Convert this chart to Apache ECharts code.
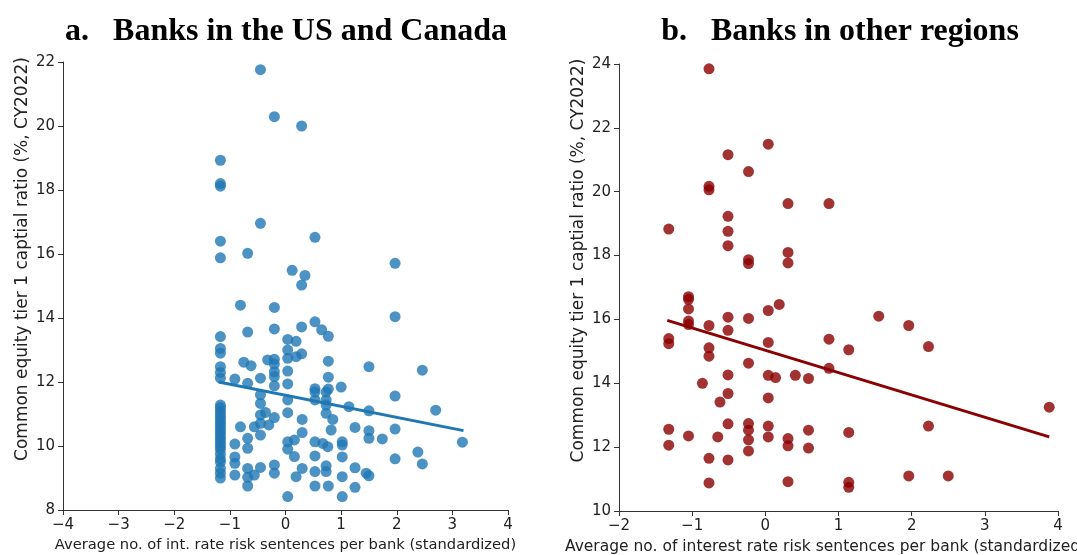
<!DOCTYPE html>
<html>
<head>
<meta charset="utf-8">
<script src="https://cdn.jsdelivr.net/npm/echarts@6/dist/echarts.min.js"></script>
<style>
  html, body { margin: 0; padding: 0; background: #fff; }
  #main { width: 1077px; height: 555px; }
</style>
</head>
<body>
<div id="main"></div>
<script>
// 数据：近似值
var titles = ['a.   Banks in the US and Canada', 'b.   Banks in other regions'];
var yName = 'Common equity tier 1 captial ratio (%, CY2022)';
var xNameLeft = 'Average no. of int. rate risk sentences per bank (standardized)';
var xNameRight = 'Average no. of interest rate risk sentences per bank (standardized)';

var usPoints = [
  [-0.45,21.76],[-0.2,20.29],[0.29,20.0],[-1.17,18.93],[-1.17,18.2],[-1.17,18.12],[-0.45,16.96],
  [-1.17,16.4],[0.53,16.52],[-0.68,16.02],[-1.17,15.88],[0.12,15.49],[0.35,15.33],[0.29,15.03],
  [-0.81,14.4],[-0.2,14.33],[-1.17,13.42],[-0.68,13.56],[-0.2,13.66],[0.29,13.72],[0.53,13.88],
  [0.65,13.63],[0.77,13.43],[0.04,13.33],[0.19,13.27],[-1.17,13.05],[-1.17,12.9],[0.04,13.0],
  [0.04,12.74],[0.19,12.79],[0.29,12.88],[-0.32,12.69],[-0.2,12.71],[-0.2,12.56],[-0.75,12.62],
  [-0.62,12.51],[0.77,12.65],[-1.17,12.48],[-1.17,12.3],[-1.17,12.12],[-0.91,12.09],[-0.68,11.96],
  [-0.45,12.12],[-0.2,12.32],[-0.2,12.17],[0.04,12.34],[0.04,11.94],[-0.2,11.88],[0.77,12.15],
  [0.53,11.79],[0.77,11.78],[1.0,11.84],
  [-1.17,11.28],[-1.17,11.2],[-1.17,11.1],[-1.17,11.0],[-1.17,10.9],[-1.17,10.8],[-1.17,10.7],
  [-1.17,10.6],[-1.17,10.5],[-1.17,10.4],[-1.17,10.3],[-1.17,10.2],[-1.17,10.1],[-1.17,10.0],
  [-1.17,9.9],[-1.17,9.75],[-1.17,9.6],[-1.17,9.5],[-1.17,9.3],[-1.17,9.15],[-1.17,9.0],
  [-0.81,10.6],[-0.91,10.06],[-0.91,9.66],[-0.91,9.46],[-0.91,9.09],[-0.68,10.24],[-0.68,9.93],
  [-0.68,9.3],[-0.68,9.02],[-0.68,8.75],[-0.56,10.6],[-0.56,9.09],[-0.45,11.6],[-0.45,11.33],
  [-0.45,10.97],[-0.36,11.05],[-0.45,10.71],[-0.45,10.34],[-0.3,10.66],[-0.2,10.89],[-0.45,9.33],
  [-0.2,9.41],[-0.2,9.15],[0.04,11.44],[0.04,11.04],[0.04,10.13],[0.16,10.19],[0.04,9.9],
  [0.16,9.67],[0.3,10.42],[0.3,10.83],[0.3,9.3],[0.19,9.04],[0.04,8.42],[0.53,11.69],[0.53,11.44],
  [0.73,11.69],[0.73,11.44],[0.73,11.28],[0.73,11.02],[0.85,10.83],[0.82,10.5],[0.53,10.13],
  [0.67,10.08],[0.76,9.98],[0.53,9.69],[0.73,9.38],[0.53,9.2],[0.73,9.2],[0.53,8.75],[0.77,8.75],
  [1.97,15.71],[1.97,14.04],[1.5,12.48],[2.46,12.37],[1.97,11.56],[1.14,11.23],[1.5,11.1],
  [2.7,11.12],[1.25,10.58],[1.5,10.48],[1.5,10.24],[1.74,10.22],[1.97,10.53],[3.18,10.12],
  [1.02,10.13],[1.02,10.03],[1.02,9.66],[2.38,9.81],[1.97,9.6],[2.46,9.44],[1.25,9.32],
  [1.45,9.15],[1.5,9.07],[1.02,9.04],[1.25,8.71],[1.02,8.42]
];
var usTrend = [[-1.2, 12.0], [3.2, 10.48]];

var otherPoints = [
  [-0.77,23.85],[0.04,21.49],[-0.51,21.16],[-0.23,20.63],[-0.77,20.17],[-0.77,20.06],[0.31,19.63],
  [0.87,19.63],[-0.51,19.23],[-1.32,18.83],[-0.51,18.76],[-0.51,18.31],[-0.23,17.87],[-0.23,17.75],
  [0.31,18.1],[0.31,17.77],[-1.05,16.71],[-1.05,16.63],[-1.05,16.33],[-1.05,15.95],[-1.05,15.84],
  [-0.77,15.81],[-0.51,16.07],[-0.51,15.66],[-0.23,16.03],[0.04,16.28],[0.19,16.47],[-1.32,15.4],
  [-1.32,15.24],[-0.77,15.11],[-0.77,14.85],[0.04,15.28],[0.87,15.38],[1.14,15.05],[0.87,14.47],
  [-0.23,14.63],[-0.51,14.26],[0.04,14.25],[0.14,14.18],[0.41,14.25],[0.59,14.15],[-0.86,14.0],
  [-0.51,13.68],[-0.62,13.41],[0.04,13.54],[-1.32,12.56],[-1.32,12.06],[-1.05,12.35],[-0.65,12.32],
  [-0.51,12.73],[-0.23,12.74],[-0.23,12.53],[-0.23,12.23],[-0.23,11.88],[0.04,12.66],[0.04,12.32],
  [0.31,12.27],[0.31,12.04],[0.59,12.53],[0.59,11.97],[1.14,12.46],[-0.77,11.65],[-0.51,11.6],
  [-0.77,10.88],[0.31,10.92],[1.14,10.9],[1.14,10.74],[1.55,16.1],[1.96,15.81],[2.23,15.15],
  [3.88,13.25],[2.23,12.66],[1.96,11.1],[2.5,11.1]
];
var otherTrend = [[-1.34, 15.97], [3.88, 12.32]];

var myChart = echarts.init(document.getElementById('main'));

function minus(v) { return String(v).replace('-', '\u2212'); }

var labelStyle = { color: '#222', fontSize: 15, fontFamily: 'DejaVu Sans', formatter: minus };
var tickStyle = { show: true, inside: false, length: 5, lineStyle: { color: '#333' } };

function xAxis(idx, min, max, name, size, pad) {
    return {
        type: 'value', gridIndex: idx, min: min, max: max, interval: 1,
        name: name, nameLocation: 'middle', nameGap: 28,
        nameTextStyle: { color: '#222', fontSize: size, fontFamily: 'DejaVu Sans', padding: pad },
        axisLine: { onZero: false, lineStyle: { color: '#333', width: 1 } },
        axisTick: tickStyle, axisLabel: labelStyle,
        splitLine: { show: false }
    };
}
function yAxis(idx, min, max) {
    return {
        type: 'value', gridIndex: idx, min: min, max: max, interval: 2,
        name: yName, nameLocation: 'middle', nameGap: 32,
        nameTextStyle: { color: '#222', fontSize: 17, fontFamily: 'DejaVu Sans', padding: [0, 0, 0, 54] },
        axisLine: { show: true, onZero: false, lineStyle: { color: '#333', width: 1 } },
        axisTick: tickStyle, axisLabel: labelStyle,
        splitLine: { show: false }
    };
}

var titleStyle = { fontFamily: 'Liberation Serif', fontWeight: 'bold', fontSize: 32, color: '#000' };

var option = {
    animation: false,
    title: [
        { text: titles[0], left: 281, top: 11, textAlign: 'center', textStyle: titleStyle },
        { text: titles[1], left: 835, top: 11, textAlign: 'center', textStyle: titleStyle }
    ],
    grid: [
        { left: 63, right: 569, top: 62, bottom: 45, outerBoundsMode: 'none' },
        { left: 619, right: 19, top: 64, bottom: 44, outerBoundsMode: 'none' }
    ],
    xAxis: [
        xAxis(0, -4, 4, xNameLeft, 14.7, [0, 0, 0, 0]),
        xAxis(1, -2, 4, xNameRight, 15.5, [0, 26, 0, 0])
    ],
    yAxis: [ yAxis(0, 8, 22), yAxis(1, 10, 24) ],
    series: [
        { type: 'scatter', xAxisIndex: 0, yAxisIndex: 0, data: usPoints, symbolSize: 11,
          itemStyle: { color: '#1f77b4', opacity: 0.8 } },
        { type: 'line', xAxisIndex: 0, yAxisIndex: 0, data: usTrend, symbol: 'none',
          lineStyle: { color: '#1f77b4', width: 3 } },
        { type: 'scatter', xAxisIndex: 1, yAxisIndex: 1, data: otherPoints, symbolSize: 11,
          itemStyle: { color: '#8b0000', opacity: 0.8 } },
        { type: 'line', xAxisIndex: 1, yAxisIndex: 1, data: otherTrend, symbol: 'none',
          lineStyle: { color: '#8b0000', width: 3 } }
    ]
};
myChart.setOption(option);
</script>
</body>
</html>
